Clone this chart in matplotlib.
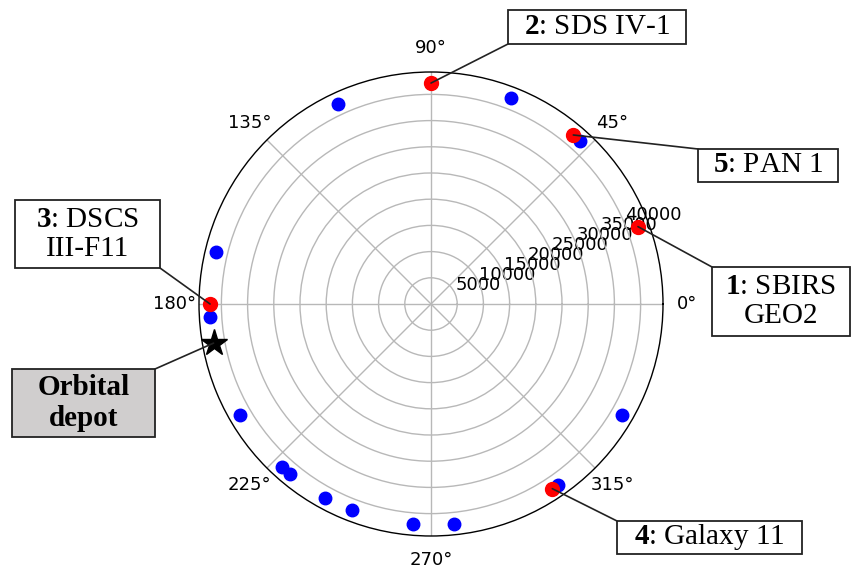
import numpy as np
import matplotlib
matplotlib.use("Agg")
import matplotlib.pyplot as plt
from matplotlib.patches import Rectangle

# ---- data -------------------------------------------------------------------
GEO_R = 42164  # km

# other GEO satellites (blue), angle in degrees
blue_theta_deg = [115.0, 68.7, 47.6, 166.3, 183.4, 210.3, 227.5, 230.4,
                  241.3, 249.1, 265.2, 275.9, 305.0, 329.8]

# labelled satellites (red)
red_ids = [1, 2, 3, 4, 5]
red_names = ["SBIRS\nGEO2", "SDS IV-1", "DSCS\nIII-F11", "Galaxy 11", "PAN 1"]
red_theta_deg = [20.5, 90.0, 180.0, 303.3, 49.9]

depot_theta_deg = 190.2
depot_label = "Orbital\ndepot"

r_ticks = [5000, 10000, 15000, 20000, 25000, 30000, 35000, 40000]

# label boxes in figure pixels (x0, y0_top, x1, y1_bottom) and the corner the
# leader line goes to
BOXES = {
    1: ((712, 267, 850, 336), (712, 267)),
    2: ((508, 10, 686, 44), (508, 44)),
    3: ((15, 200, 160, 268), (160, 268)),
    4: ((617, 521, 802, 554), (617, 521)),
    5: ((698, 149, 838, 182), (698, 149)),
}
DEPOT_BOX = ((12, 369, 155, 437), (155, 369))

W, H = 851, 572

plt.rcParams["mathtext.fontset"] = "custom"
plt.rcParams["mathtext.rm"] = "Liberation Serif"
plt.rcParams["mathtext.bf"] = "Liberation Serif:bold"

fig = plt.figure(figsize=(W / 100, H / 100), dpi=100)
ax = fig.add_axes([199 / W, 1 - 536 / H, 464 / W, 464 / H], polar=True)

ax.set_ylim(0, GEO_R * 1.05)
ax.set_yticks(r_ticks)
ax.set_yticklabels([str(t) for t in r_ticks], fontsize=13)
ax.tick_params(axis="x", labelsize=13, pad=7)
ax.grid(True, color="#b8b8b8", linewidth=1.0)
ax.spines["polar"].set_linewidth(1.0)

ax.plot(np.radians(blue_theta_deg), [GEO_R] * len(blue_theta_deg), "o",
        color="blue", markersize=9, zorder=5, clip_on=False)
ax.plot(np.radians(red_theta_deg), [GEO_R] * len(red_theta_deg), "o",
        color="red", markersize=10, zorder=6, clip_on=False)
ax.plot(np.radians(depot_theta_deg), GEO_R, "*", color="black",
        markersize=20, zorder=7, clip_on=False)


def px(x, y):
    return x / W, 1 - y / H


def draw_box(box, corner, text, theta_deg, face="white", weight="normal"):
    x0, y0, x1, y1 = box
    fx0, fy1 = px(x0, y1)
    rect = Rectangle((fx0, fy1), (x1 - x0) / W, (y1 - y0) / H,
                     transform=fig.transFigure, facecolor=face,
                     edgecolor="#222222", linewidth=1.3, zorder=10)
    fig.patches.append(rect)
    cx, cy = px((x0 + x1) / 2, (y0 + y1) / 2)
    fig.text(cx, cy, text, ha="center", va="center", fontsize=21,
             family="Liberation Serif", weight=weight, zorder=11,
             linespacing=1.15)
    ax.annotate("", xy=(np.radians(theta_deg), GEO_R),
                xytext=px(*corner), textcoords="figure fraction",
                arrowprops=dict(arrowstyle="-", color="#222222", lw=1.2,
                                shrinkA=0, shrinkB=0),
                annotation_clip=False, zorder=9)


for sid, name, th in zip(red_ids, red_names, red_theta_deg):
    box, corner = BOXES[sid]
    lines = name.split("\n")
    txt = rf"$\mathbf{{{sid}}}$: " + lines[0]
    if len(lines) > 1:
        txt += "\n" + lines[1]
    draw_box(box, corner, txt, th)

draw_box(DEPOT_BOX[0], DEPOT_BOX[1], depot_label, depot_theta_deg,
         face="#d0cece", weight="bold")

fig.savefig("out.png", dpi=100)
